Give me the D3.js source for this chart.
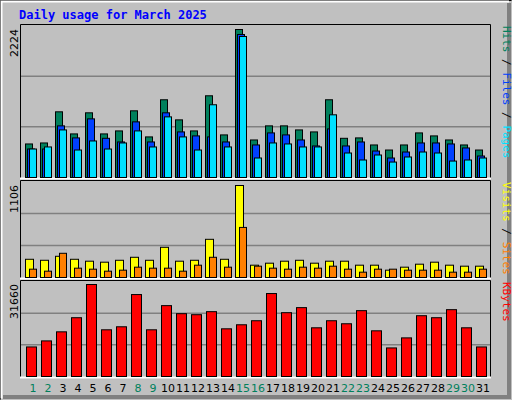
<!DOCTYPE html>
<html><head><meta charset="utf-8">
<script src="https://cdn.jsdelivr.net/npm/d3@7"></script>
<style>body{margin:0;background:#fff}</style>
</head><body><div id="chart"></div>
<script>
const days = d3.range(1, 32);
const weekend = [1, 2, 8, 9, 15, 16, 22, 23, 29, 30];
const hits = [504,519,987,655,972,655,700,1002,610,1168,866,700,1228,640,2224,564,776,776,715,685,1168,589,595,489,413,489,670,625,564,489,413];
const files = [428,428,776,595,881,589,534,836,534,972,685,625,610,534,2149,489,670,640,564,474,730,474,534,398,293,383,519,519,504,444,323];
const pages = [428,459,715,413,549,428,519,700,459,911,610,413,1093,459,2119,293,519,504,459,459,942,368,263,338,232,308,383,368,247,263,293];
const visits = [219,207,255,219,196,184,207,243,207,363,196,207,459,219,1106,148,172,196,207,172,196,196,148,148,88,124,160,184,148,136,136];
const sites = [100,76,291,112,100,76,88,124,112,112,76,148,243,124,602,136,112,100,124,112,136,100,64,100,100,88,88,88,64,64,100];
const kbytes = [10170,12250,15370,20230,31660,16070,17110,28200,16070,24390,21620,21270,22310,16410,17800,19190,28550,21960,23700,16760,19190,18150,22660,15720,9830,13290,20920,20230,23000,16760,10170];

const W = 512, H = 400;
const svg = d3.select('#chart').append('svg').attr('width', W).attr('height', H)
  .style('font-family', 'DejaVu Sans Mono, monospace');

// frame
svg.append('rect').attr('width', W).attr('height', H).attr('fill', '#c0c0c0');
svg.append('path').attr('d', `M0.5,${H-0.5}V0.5H${W-0.5}`).attr('fill', 'none').attr('stroke', '#000');
svg.append('path').attr('d', `M1.5,${H-1.5}V1.5H${W-3}`).attr('fill', 'none').attr('stroke', '#fff').attr('stroke-width', 2);
svg.append('path').attr('d', `M${W-3},3V${H-3}H3`).attr('fill', 'none').attr('stroke', '#808080').attr('stroke-width', 4);

svg.append('text').attr('x', 19).attr('y', 19).text('Daily usage for March 2025')
  .attr('fill', '#0000ff').attr('font-weight', 'bold').attr('font-size', 12);

const x = d3.scaleBand().domain(days).range([25, 490]).padding(0);

const panels = [
  { top: 25, bottom: 177, max: 2224, series: [[hits, '#00805c', 0, 7], [files, '#0040ff', 2, 7], [pages, '#00e0ff', 4, 7]],
    labels: [['Pages', '#00e0ff'], [' / ', '#000'], ['Files', '#0040ff'], [' / ', '#000'], ['Hits', '#00805c']] },
  { top: 181, bottom: 277, max: 1106, series: [[visits, '#ffff00', 0, 8], [sites, '#ff8000', 4, 7]],
    labels: [['Sites', '#ff8000'], [' / ', '#000'], ['Visits', '#ffff00']] },
  { top: 281, bottom: 376, max: 31660, series: [[kbytes, '#ff0000', 1, 10]],
    labels: [['KBytes', '#ff0000']] }
];

panels.forEach(p => {
  const h = p.bottom - p.top;
  const y = d3.scaleLinear().domain([0, p.max]).range([p.bottom, p.bottom - (p.max === 2224 ? 148 : 92)]);
  [1, 2].forEach(k => svg.append('line').attr('x1', 20).attr('x2', 490)
    .attr('y1', p.bottom - h * k / 3 + 0.5).attr('y2', p.bottom - h * k / 3 + 0.5)
    .attr('stroke', '#808080').attr('stroke-width', 1.5));
  svg.append('path').attr('d', `M20.5,${p.bottom + 1}V${p.top - 0.5}H490.5V${p.bottom + 1}`)
    .attr('fill', 'none').attr('stroke', '#000');
  svg.append('line').attr('x1', 20).attr('x2', 491).attr('y1', p.bottom + 1.5).attr('y2', p.bottom + 1.5)
    .attr('stroke', '#fff').attr('stroke-width', 2);
  p.series.forEach(([vals, col, off, w]) => {
    svg.append('g').selectAll('rect').data(vals).join('rect')
      .attr('x', (d, i) => x(days[i]) + off + 0.5).attr('width', w)
      .attr('y', d => y(d) + 0.5).attr('height', d => p.bottom - y(d))
      .attr('fill', col).attr('stroke', '#000');
  });
  const yt = y(p.max);
  svg.append('text').attr('transform', `translate(18,${yt}) rotate(-90)`).attr('text-anchor', 'end')
    .attr('font-size', 11).attr('font-family', 'DejaVu Sans, sans-serif').text(p.max);
  const t = svg.append('text').attr('transform', `translate(503,${p.top + 1}) rotate(90)`)
    .attr('font-size', 11);
  t.selectAll('tspan').data(p.labels.slice().reverse()).join('tspan')
    .attr('fill', d => d[1]).text(d => d[0]);
});

svg.append('g').selectAll('text').data(days).join('text')
  .attr('x', d => x(d) + 8).attr('y', 392).attr('text-anchor', 'middle')
  .attr('font-size', 11).attr('font-family', 'DejaVu Sans, sans-serif')
  .attr('fill', d => weekend.includes(d) ? '#00805c' : '#000').text(d => d);
</script></body></html>
